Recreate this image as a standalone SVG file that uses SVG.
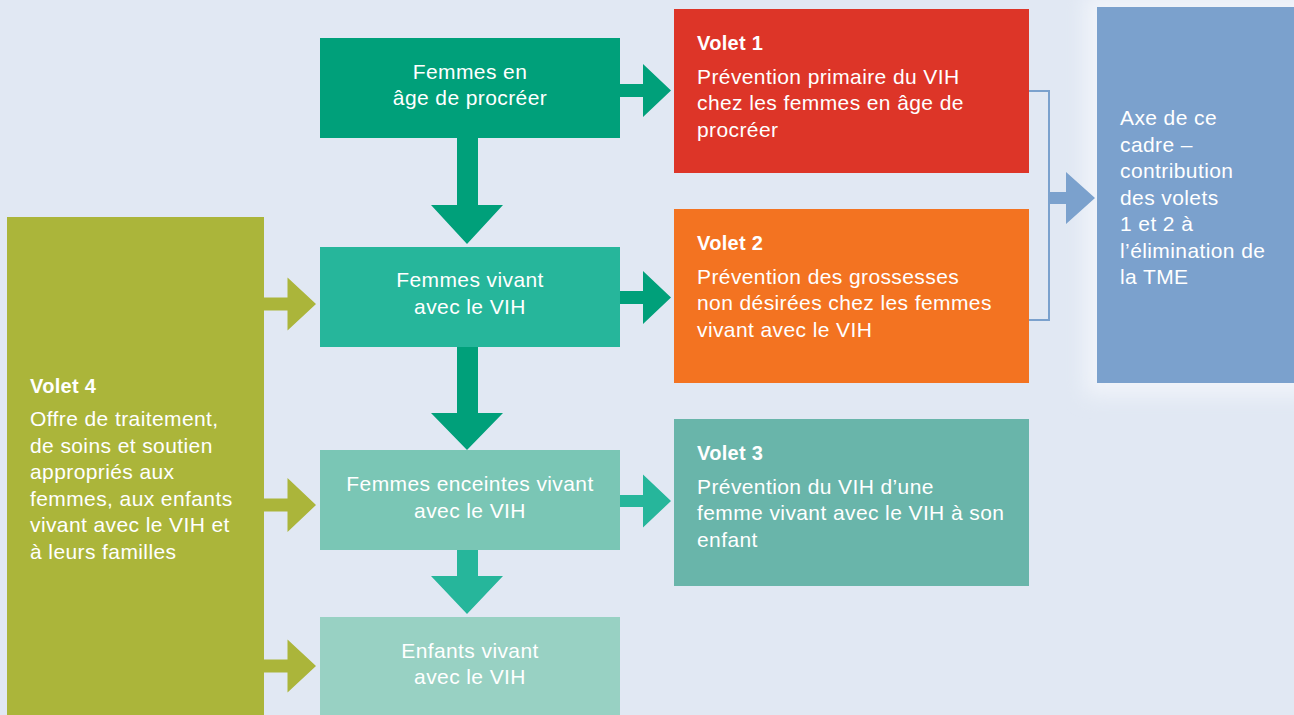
<svg xmlns="http://www.w3.org/2000/svg" width="1294" height="715" viewBox="0 0 1294 715">
<defs>
<filter id="glow" x="-30%" y="-30%" width="160%" height="160%"><feGaussianBlur stdDeviation="10"/></filter>
<style>
text{font-family:"Liberation Sans",Arial,Helvetica,sans-serif;fill:#ffffff;font-size:21px;letter-spacing:0.4px}
.t{font-weight:bold;font-size:20px;letter-spacing:0.3px}
.c{text-anchor:middle}
</style>
</defs>
<rect x="0" y="0" width="1294" height="715" fill="#E1E8F3"/>
<rect x="1085" y="-5" width="230" height="400" fill="#F1F4FA" filter="url(#glow)"/>

<g id="connectors">
<polygon fill="#00A07A" points="620,84 643,84 643,64 671,90.5 643,117 643,97 620,97"/>
<polygon fill="#00A07A" points="620,291 643,291 643,271 671,297.5 643,324 643,304 620,304"/>
<polygon fill="#26B69B" points="620,495 643,495 643,474.5 671,501 643,527.5 643,507 620,507"/>
<polygon fill="#00A07A" points="457,138 478,138 478,205 503,205 467,244 431,205 457,205"/>
<polygon fill="#00A07A" points="457,346 478,346 478,413 503,413 467,450 431,413 457,413"/>
<polygon fill="#26B69B" points="457,550 478,550 478,576 503,576 467,614 431,576 457,576"/>
<polygon fill="#ABB53A" points="264,297.5 287.5,297.5 287.5,277.5 316,304 287.5,330.5 287.5,310.5 264,310.5"/>
<polygon fill="#ABB53A" points="264,498.5 287.5,498.5 287.5,478 316,505 287.5,532 287.5,511.5 264,511.5"/>
<polygon fill="#ABB53A" points="264,659.5 287.5,659.5 287.5,639.5 316,666 287.5,692.5 287.5,672.5 264,672.5"/>
<path d="M1028,91 H1049 V320 H1029" fill="none" stroke="#7BA1CD" stroke-width="2"/>
<polygon fill="#7BA1CD" points="1049,192 1066,192 1066,172 1095,198 1066,224 1066,204 1049,204"/>
</g>

<g id="n1"><rect x="320" y="38" width="300" height="100" fill="#00A07A"/>
<text class="c" x="470" y="78.5">Femmes en</text><text class="c" x="470" y="105">âge de procréer</text></g>

<g id="n2"><rect x="320" y="247" width="300" height="100" fill="#26B69B"/>
<text class="c" x="470" y="286.5">Femmes vivant</text><text class="c" x="470" y="313.5">avec le VIH</text></g>

<g id="n3"><rect x="320" y="450" width="300" height="100" fill="#7AC6B5"/>
<text class="c" x="470" y="491">Femmes enceintes vivant</text><text class="c" x="470" y="517.5">avec le VIH</text></g>

<g id="n4"><rect x="320" y="617" width="300" height="100" fill="#98D1C3"/>
<text class="c" x="470" y="657.5">Enfants vivant</text><text class="c" x="470" y="684">avec le VIH</text></g>

<g id="v1"><rect x="674" y="9" width="355" height="164" fill="#DD3528"/>
<text class="t" x="697" y="49.5">Volet 1</text>
<text x="697" y="83.5">Prévention primaire du VIH</text>
<text x="697" y="110">chez les femmes en âge de</text>
<text x="697" y="136.5">procréer</text></g>

<g id="v2"><rect x="674" y="209" width="355" height="174" fill="#F37321"/>
<text class="t" x="697" y="249.5">Volet 2</text>
<text x="697" y="283.5">Prévention des grossesses</text>
<text x="697" y="310">non désirées chez les femmes</text>
<text x="697" y="336.5">vivant avec le VIH</text></g>

<g id="v3"><rect x="674" y="419" width="355" height="167" fill="#69B5AA"/>
<text class="t" x="697" y="459.5">Volet 3</text>
<text x="697" y="493.5">Prévention du VIH d’une</text>
<text x="697" y="520">femme vivant avec le VIH à son</text>
<text x="697" y="546.5">enfant</text></g>

<g id="v4"><rect x="7" y="217" width="257" height="498" fill="#ABB53A"/>
<text class="t" x="30" y="392.5">Volet 4</text>
<text x="30" y="426">Offre de traitement,</text>
<text x="30" y="452.5">de soins et soutien</text>
<text x="30" y="479">appropriés aux</text>
<text x="30" y="505.5">femmes, aux enfants</text>
<text x="30" y="532">vivant avec le VIH et</text>
<text x="30" y="558.5">à leurs familles</text></g>

<g id="axe"><rect x="1097" y="7" width="197" height="376" fill="#7BA1CD"/>
<text x="1120" y="125">Axe de ce</text>
<text x="1120" y="151.5">cadre –</text>
<text x="1120" y="178">contribution</text>
<text x="1120" y="204.5">des volets</text>
<text x="1120" y="231">1 et 2 à</text>
<text x="1120" y="257.5">l’élimination de</text>
<text x="1120" y="284">la TME</text></g>
</svg>
